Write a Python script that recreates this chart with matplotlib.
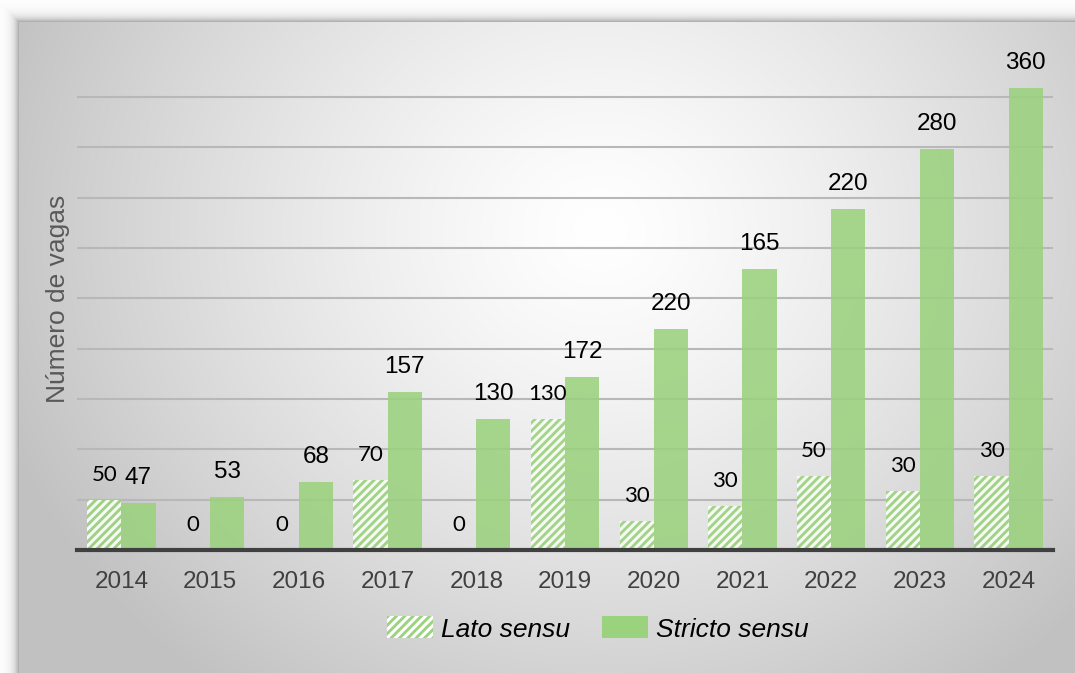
import numpy as np
import matplotlib
matplotlib.use('Agg')
import matplotlib.pyplot as plt
from matplotlib.patches import Patch

# dados
anos = ['2014', '2015', '2016', '2017', '2018', '2019', '2020', '2021', '2022', '2023', '2024']
lato = [50, 0, 0, 70, 0, 130, 29, 44, 74, 59, 74]          # altura das barras
stricto = [47, 53, 68, 157, 130, 172, 220, 279, 339, 399, 459]
lato_rotulos = ['50', '0', '0', '70', '0', '130', '30', '30', '50', '30', '30']
stricto_rotulos = ['47', '53', '68', '157', '130', '172', '220', '165', '220', '280', '360']

W, H = 1075, 673
plt.rcParams['hatch.linewidth'] = 2.2
fig = plt.figure(figsize=(W / 100, H / 100), dpi=100)

# fundo: painel com gradiente radial + sombra
yy, xx = np.mgrid[0:H, 0:W]
px0, py0 = 19, 22
d = np.hypot((xx - 600) / 1.0, (yy - 230) / 0.9)
painel = 255 - 62 * np.clip(d / 640, 0, 1) ** 1.3
dx = np.clip(px0 - xx, 0, None)
dy = np.clip(py0 - yy, 0, None)
dist = np.maximum(dx, dy)
sombra = 255 - 95 * np.exp(-dist / 5.0)
img = np.where((xx >= px0) & (yy >= py0), painel, sombra)
img = np.clip(img, 0, 255) / 255.0
bg = fig.add_axes([0, 0, 1, 1], zorder=-10)
bg.imshow(np.dstack([img, img, img]), aspect='auto', extent=[0, W, H, 0])
bg.axis('off')

ax = fig.add_axes([77 / W, 1 - 550 / H, (1053 - 77) / W, 483 / H])
ax.patch.set_alpha(0)

x = np.arange(len(anos))
w = 0.385
verde = '#9bd27e'
b1 = ax.bar(x - w / 2, lato, w, color=verde, edgecolor='white', hatch='////',
            linewidth=0, alpha=0.9, zorder=3)
b2 = ax.bar(x + w / 2, stricto, w, color=verde, linewidth=0, alpha=0.88, zorder=3)

for i in range(len(anos)):
    ax.annotate(lato_rotulos[i], (x[i] - w / 2, lato[i]), xytext=(0, 18),
                textcoords='offset points', ha='center', va='center',
                fontsize=16, family='Lato', color='black')
    ax.annotate(stricto_rotulos[i], (x[i] + w / 2, stricto[i]), xytext=(0, 18),
                textcoords='offset points', ha='center', va='center',
                fontsize=17.5, family='Liberation Sans', color='black')

ax.set_xlim(-0.5, len(anos) - 0.5)
ax.set_ylim(0, 480)
ax.set_yticks(range(50, 451, 50))
ax.set_yticklabels([])
ax.tick_params(axis='y', length=0)
ax.grid(axis='y', color='#b8b8b8', linewidth=1.5, zorder=0)
ax.set_axisbelow(True)
ax.set_xticks(x)
ax.set_xticklabels(anos, fontsize=17.5, family='Liberation Sans', color='#404040')
ax.tick_params(axis='x', length=0, pad=15)
for s in ['top', 'right', 'left']:
    ax.spines[s].set_visible(False)
ax.spines['bottom'].set_color('#404040')
ax.spines['bottom'].set_linewidth(3)
ax.spines['bottom'].set_zorder(5)

fig.text(58 / W, 1 - 299 / H, 'Número de vagas', rotation=90, ha='center', va='center',
         fontsize=19, family='Liberation Sans', color='#595959')

handles = [Patch(facecolor=verde, edgecolor='white', hatch='////', linewidth=0),
           Patch(facecolor=verde, linewidth=0)]
fig.legend(handles, ['Lato sensu', 'Stricto sensu'], loc='center', ncol=2,
           bbox_to_anchor=(598 / W, 1 - 629 / H), frameon=False,
           prop={'family': 'Liberation Sans', 'style': 'italic', 'size': 19},
           handlelength=1.75, handleheight=0.9, handletextpad=0.3, columnspacing=1.2)

fig.savefig('out.png', dpi=100)
